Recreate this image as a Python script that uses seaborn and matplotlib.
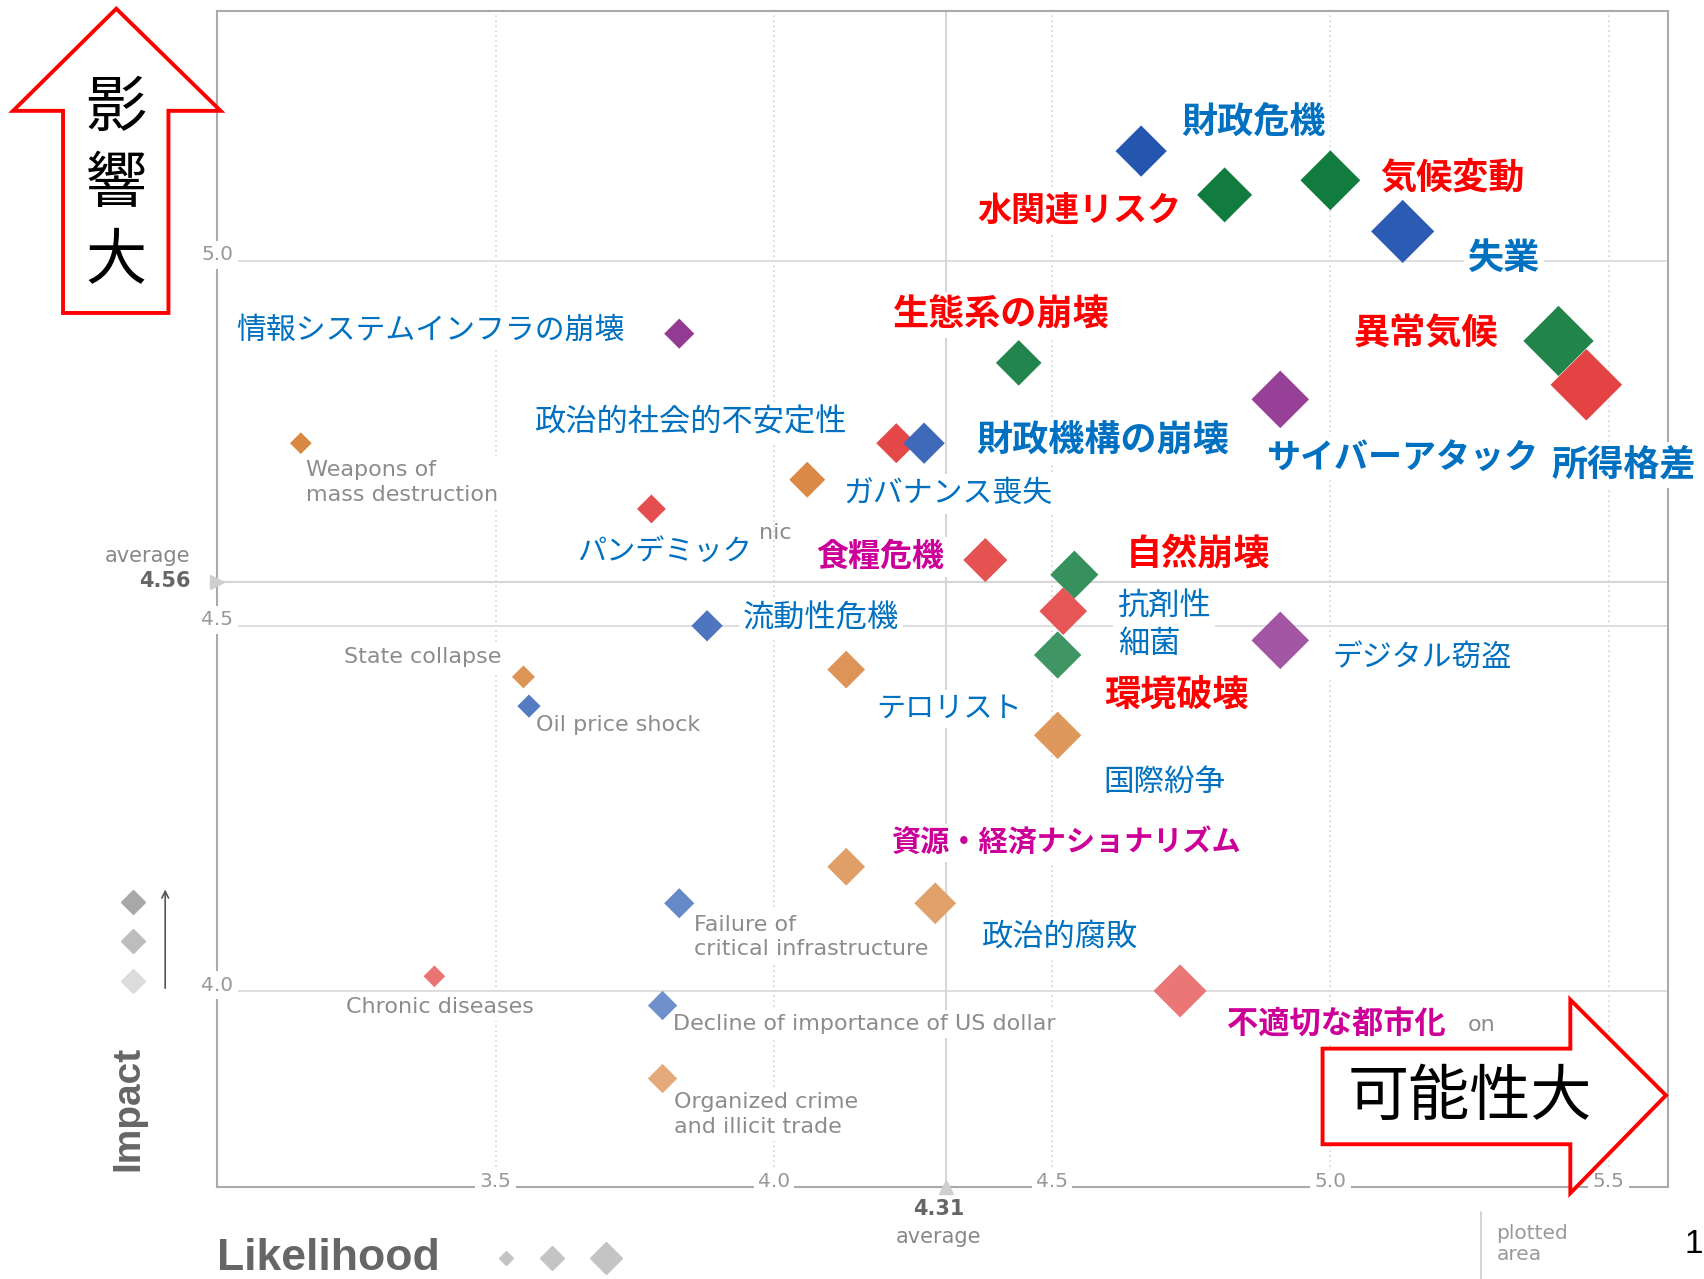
import numpy as np
import pandas as pd
import matplotlib.pyplot as plt
import matplotlib.colors as mcolors
from matplotlib.patches import Polygon
from matplotlib.lines import Line2D
import seaborn as sns

# values (likelihood = x, impact = y)
risk_names = [
    '財政危機', '水関連リスク', '気候変動', '失業', '異常気候', '所得格差',
    'サイバーアタック', '生態系の崩壊', '情報システムインフラの崩壊',
    '政治的社会的不安定性', '財政機構の崩壊', 'Weapons of\nmass destruction',
    'ガバナンス喪失', 'パンデミック', '食糧危機', '自然崩壊', '抗剤性\n細菌',
    '環境破壊', 'デジタル窃盗', '流動性危機', 'テロリスト', 'State collapse',
    'Oil price shock', '国際紛争', '資源・経済ナショナリズム', '政治的腐敗',
    'Failure of\ncritical infrastructure', 'Chronic diseases',
    'Decline of importance of US dollar', '不適切な都市化',
    'Organized crime\nand illicit trade',
]
likelihood = [4.66, 4.81, 5.00, 5.13, 5.41, 5.46, 4.91, 4.44, 3.83, 4.22, 4.27,
              3.15, 4.06, 3.78, 4.38, 4.54, 4.52, 4.51, 4.91, 3.88, 4.13, 3.55,
              3.56, 4.51, 4.13, 4.29, 3.83, 3.39, 3.80, 4.73, 3.80]
impact = [5.15, 5.09, 5.11, 5.04, 4.89, 4.83, 4.81, 4.86, 4.90, 4.75, 4.75,
          4.75, 4.70, 4.66, 4.59, 4.57, 4.52, 4.46, 4.48, 4.50, 4.44, 4.43,
          4.39, 4.35, 4.17, 4.12, 4.12, 4.02, 3.98, 4.00, 3.88]
category = ['Economic', 'Environmental', 'Environmental', 'Economic', 'Environmental',
            'Societal', 'Technological', 'Environmental', 'Technological', 'Societal',
            'Economic', 'Geopolitical', 'Geopolitical', 'Societal', 'Societal',
            'Environmental', 'Societal', 'Environmental', 'Technological', 'Economic',
            'Geopolitical', 'Geopolitical', 'Economic', 'Geopolitical', 'Geopolitical',
            'Geopolitical', 'Economic', 'Societal', 'Economic', 'Societal', 'Geopolitical']
avg_likelihood = 4.31
avg_impact = 4.56
x_ticks = [3.5, 4.0, 4.5, 5.0, 5.5]
y_ticks = [4.0, 4.5, 5.0]

df = pd.DataFrame({'name': risk_names, 'likelihood': likelihood,
                   'impact': impact, 'category': category})

# ---- styling ----
base_colors = {'Economic': '#2456b0', 'Environmental': '#0e7a3c', 'Societal': '#e03030',
               'Technological': '#8b2b8b', 'Geopolitical': '#d4782a'}
BLUE, RED, MAG, GRAY = '#0070c0', '#ff0000', '#cc0099', '#8c8c8c'

# label offset from its diamond in reference pixels (right, down), ha, colour, weight, size
label_style = {
    '財政危機': (37, -26, 'left', BLUE, 'bold', 26),
    '水関連リスク': (-40, 14, 'right', RED, 'bold', 24.5),
    '気候変動': (46, -2, 'left', RED, 'bold', 26),
    '失業': (60, 25, 'left', BLUE, 'bold', 26),
    '異常気候': (-56, -6, 'right', RED, 'bold', 26),
    '所得格差': (-32, 74, 'left', BLUE, 'bold', 26),
    'サイバーアタック': (-12, 54, 'left', BLUE, 'bold', 24.5),
    '生態系の崩壊': (-116, -44, 'left', RED, 'bold', 26),
    '情報システムインフラの崩壊': (-50, -3, 'right', BLUE, 'normal', 21.5),
    '政治的社会的不安定性': (-45, -19, 'right', BLUE, 'normal', 22.5),
    '財政機構の崩壊': (48, -2, 'left', BLUE, 'bold', 26),
    'ガバナンス喪失': (33, 13, 'left', BLUE, 'normal', 21.5),
    'パンデミック': (-68, 40, 'left', BLUE, 'normal', 21),
    '食糧危機': (-38, -3, 'right', MAG, 'bold', 23),
    '自然崩壊': (47, -19, 'left', RED, 'bold', 26),
    '抗剤性\n細菌': (50, 13, 'left', BLUE, 'normal', 22.5),
    '環境破壊': (43, 37, 'left', RED, 'bold', 26),
    'デジタル窃盗': (48, 16, 'left', BLUE, 'normal', 21.5),
    '流動性危機': (33, -7, 'left', BLUE, 'normal', 22.5),
    'テロリスト': (28, 36, 'left', BLUE, 'normal', 21),
    '国際紛争': (42, 43, 'left', BLUE, 'normal', 22),
    '資源・経済ナショナリズム': (42, -22, 'left', MAG, 'bold', 21),
    '政治的腐敗': (43, 31, 'left', BLUE, 'normal', 22.5),
    '不適切な都市化': (43, 30, 'left', MAG, 'bold', 22.5),
    'Weapons of\nmass destruction': (5, 36, 'left', GRAY, 'normal', 16),
    'State collapse': (-20, -18, 'right', GRAY, 'normal', 16),
    'Oil price shock': (6, 17, 'left', GRAY, 'normal', 16),
    'Failure of\ncritical infrastructure': (14, 31, 'left', GRAY, 'normal', 16),
    'Chronic diseases': (5, 28, 'center', GRAY, 'normal', 16),
    'Decline of importance of US dollar': (10, 17, 'left', GRAY, 'normal', 16),
    'Organized crime\nand illicit trade': (11, 33, 'left', GRAY, 'normal', 16),
}
# leftovers of the original english labels peeking out
fragments = {'パンデミック': ('nic', 99, 22), '不適切な都市化': ('on', 265, 31)}

sns.set_theme(style='white')
plt.rcParams['font.family'] = ['Noto Sans CJK JP', 'DejaVu Sans']
LATIN = ['Liberation Sans', 'DejaVu Sans']
WIDE = ['DejaVu Sans']

W, H = 1568, 1177          # reference picture size used for layout
K = 1704 / W               # reference px -> output px


def fpt(x, y):
    return (x / W, 1 - y / H)


def shade(cat, imp):
    f = np.clip(0.62 + 0.38 * (imp - 3.85) / 1.3, 0.62, 1.0)
    rgb = np.array(mcolors.to_rgb(base_colors[cat]))
    return tuple(1 - f * (1 - rgb))


fig = plt.figure(figsize=(17.04, 12.79), dpi=100)
ax = fig.add_axes([200 / W, 1 - 1092 / H, 1335 / W, 1082 / H])
ax.set_xlim(3.0, 5.607)
ax.set_ylim(3.732, 5.342)

# grid + averages
for t in x_ticks:
    ax.axvline(t, color='#d4d4d4', lw=1.2, ls=(0, (1, 2)), zorder=1)
for t in y_ticks:
    ax.axhline(t, color='#dedede', lw=1.4, zorder=1)
ax.axhline(avg_impact, color='#d6d6d6', lw=1.5, zorder=1)
ax.axvline(avg_likelihood, color='#d6d6d6', lw=1.5, zorder=1)
ax.plot([0], [avg_impact], marker='>', ms=10, color='#cfcfcf',
        transform=ax.get_yaxis_transform(), clip_on=False, zorder=5)
ax.plot([avg_likelihood], [0], marker='^', ms=10, color='#cfcfcf',
        transform=ax.get_xaxis_transform(), clip_on=False, zorder=5)

for s in ax.spines.values():
    s.set_color('#aaaaaa')
    s.set_linewidth(1.5)
ax.set_xticks([])
ax.set_yticks([])

# tick labels sitting on the axis lines
for t in x_ticks:
    ax.text(t, 0.004, f'{t:.1f}', transform=ax.get_xaxis_transform(), ha='center',
            va='center', fontsize=14.5, color='#999999', family=WIDE, zorder=6,
            bbox=dict(fc='white', ec='none', pad=3))
for t in y_ticks:
    ax.text(0.0, t + 0.008, f'{t:.1f}', transform=ax.get_yaxis_transform(), ha='center',
            va='center', fontsize=14.5, color='#999999', family=WIDE, zorder=6,
            bbox=dict(fc='white', ec='none', pad=3))

# diamonds: size grows with likelihood, shade darkens with impact
half_diag = np.maximum(10, 10 + 11.7 * (df['likelihood'] - 3.5))
marker_area = 1.2243 * half_diag ** 2
palette = {n: shade(c, i) for n, c, i in zip(df['name'], df['category'], df['impact'])}
sns.scatterplot(data=df, x='likelihood', y='impact', hue='name', palette=palette,
                s=marker_area, marker='D', linewidth=0, legend=False, ax=ax, zorder=4)
ax.set_xlabel('')
ax.set_ylabel('')

# labels
for _, r in df.iterrows():
    dx, dy, ha, col, wt, fs = label_style[r['name']]
    fam = WIDE if col == GRAY else ['Noto Sans CJK JP', 'DejaVu Sans']
    ax.annotate(r['name'], xy=(r['likelihood'], r['impact']), xytext=(dx * K, -dy * K),
                textcoords='offset pixels', ha=ha, va='center', color=col,
                fontweight=wt, fontsize=fs, family=fam, zorder=3,
                linespacing=1.3 if col == GRAY else 1.25,
                bbox=dict(fc='white', ec='none', pad=3))
    if r['name'] in fragments:
        txt, fx, fy = fragments[r['name']]
        ax.annotate(txt, xy=(r['likelihood'], r['impact']), xytext=(fx * K, -fy * K),
                    textcoords='offset pixels', ha='left', va='center', color=GRAY,
                    fontsize=16, family=WIDE, zorder=2)

# red arrows with captions
up = [(107, 8), (203, 102), (155, 102), (155, 288), (58, 288), (58, 102), (12, 102)]
right = [(1217, 965), (1445, 965), (1445, 920), (1533, 1008), (1445, 1098),
         (1445, 1053), (1217, 1053)]
for pts in (up, right):
    fig.add_artist(Polygon([fpt(*p) for p in pts], closed=True, transform=fig.transFigure,
                           fc='white', ec='#ff0000', lw=2.8, joinstyle='miter', zorder=8))
for ch, yy in zip('影響大', (100, 170, 241)):
    fig.text(*fpt(107, yy), ch, ha='center', va='center', fontsize=44, color='black', zorder=9)
fig.text(*fpt(1353, 1010), '可能性大', ha='center', va='center', fontsize=44,
         color='black', zorder=9)

# legend-ish decorations
for yy, c in zip((830, 866, 903), ('#a8a8a8', '#bdbdbd', '#dcdcdc')):
    fig.add_artist(Line2D([122 / W], [1 - yy / H], marker='D', ms=12, color=c, lw=0,
                          transform=fig.transFigure))
ax.annotate('', xy=fpt(152, 816), xytext=fpt(152, 912), xycoords='figure fraction',
            arrowprops=dict(arrowstyle='->', color='#555555', lw=1.2))
for xx, ms in zip((466, 508, 558), (7.5, 12, 16.5)):
    fig.add_artist(Line2D([xx / W], [1 - 1158 / H], marker='D', ms=ms, color='#c4c4c4',
                          lw=0, transform=fig.transFigure))
fig.text(*fpt(118, 1020), 'Impact', rotation=90, ha='center', va='center', fontsize=28,
         fontweight='bold', color='#666666', family=LATIN)
fig.text(*fpt(200, 1158), 'Likelihood', ha='left', va='center', fontsize=32,
         fontweight='bold', color='#666666', family=LATIN)

fig.text(*fpt(175, 512), 'average', ha='right', va='center', fontsize=15, color='#888888',
         family=WIDE)
fig.text(*fpt(175, 535), f'{avg_impact:.2f}', ha='right', va='center', fontsize=15,
         fontweight='bold', color='#666666', family=WIDE)
fig.text(*fpt(864, 1113), f'{avg_likelihood:.2f}', ha='center', va='center', fontsize=15,
         fontweight='bold', color='#666666', family=WIDE)
fig.text(*fpt(864, 1138), 'average', ha='center', va='center', fontsize=15,
         color='#888888', family=WIDE)

fig.add_artist(Line2D([1363 / W, 1363 / W], [1 - 1115 / H, 0], color='#cccccc', lw=1.2,
                      transform=fig.transFigure))
fig.text(*fpt(1377, 1145), 'plotted\narea', ha='left', va='center', fontsize=14.5,
         color='#999999', family=WIDE, linespacing=1.1)
fig.text(*fpt(1550, 1145), '1', ha='left', va='center', fontsize=24, color='black',
         family=LATIN)

fig.savefig('out.png', dpi=100)
